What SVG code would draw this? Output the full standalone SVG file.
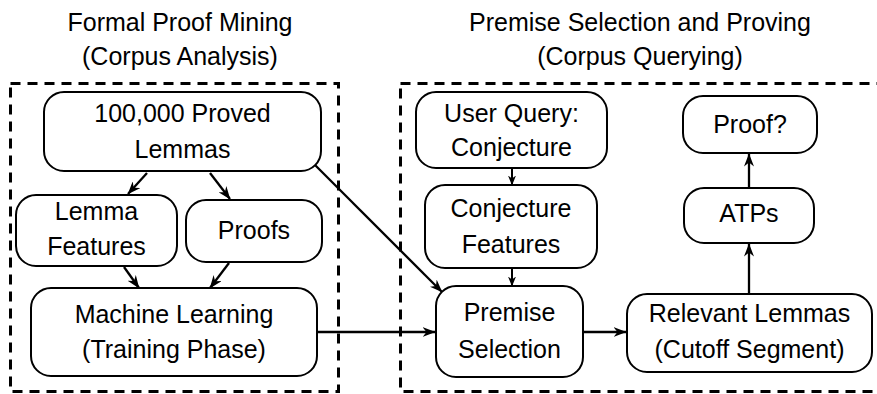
<svg xmlns="http://www.w3.org/2000/svg" width="877" height="394" viewBox="0 0 877 394">
  <defs>
    <marker id="arrow" viewBox="0 0 13 10" refX="12.5" refY="5" markerWidth="13" markerHeight="10" markerUnits="userSpaceOnUse" orient="auto">
      <path d="M0,0 L13,5 L0,10 L4,5 z" fill="#000"/>
    </marker>
    <marker id="arrow-small" viewBox="0 0 10 8" refX="9.5" refY="4" markerWidth="10" markerHeight="8" markerUnits="userSpaceOnUse" orient="auto">
      <path d="M0,0 L10,4 L0,8 L3,4 z" fill="#000"/>
    </marker>
  </defs>
  <style>
    text { font-family: "Liberation Sans", Arial, Helvetica, sans-serif; font-size: 25px; fill: #000; text-anchor: middle; }
    .node rect { fill: #fff; stroke: #000; stroke-width: 2; }
    .frame { fill: none; stroke: #000; stroke-width: 3; stroke-dasharray: 10 7; }
    .edges path { fill: none; stroke: #000; stroke-width: 2.3; marker-end: url(#arrow); }
    .edges path.short { marker-end: url(#arrow-small); stroke-width: 2; }
  </style>
  <rect width="877" height="394" fill="#fff"/>

  <!-- section frames and titles -->
  <g id="mining">
    <rect class="frame" x="10.5" y="83.5" width="328" height="308"/>
    <text x="180" y="31">Formal Proof Mining</text>
    <text x="180" y="65">(Corpus Analysis)</text>
  </g>
  <g id="querying">
    <rect class="frame" x="400.5" y="83.5" width="490" height="308"/>
    <text x="640" y="31">Premise Selection and Proving</text>
    <text x="640" y="65">(Corpus Querying)</text>
  </g>

  <!-- connectors -->
  <g class="edges" id="edges">
    <path d="M147,173 L128,194"/>
    <path d="M210,173 L230,199"/>
    <path d="M124,267 L139,288"/>
    <path d="M229,263 L210,288"/>
    <path d="M313,163 L442,292"/>
    <path d="M317,332 L435,332"/>
    <path class="short" d="M512,169 L512,185"/>
    <path class="short" d="M512,268 L512,286"/>
    <path d="M584,332 L626,332"/>
    <path d="M749,294 L749,244"/>
    <path d="M749,188 L749,154"/>
  </g>

  <!-- nodes -->
  <g class="node" id="proved-lemmas">
    <rect x="44" y="92" width="277" height="79" rx="20"/>
    <text x="182.5" y="122">100,000 Proved</text>
    <text x="182.5" y="158">Lemmas</text>
  </g>
  <g class="node" id="lemma-features">
    <rect x="16" y="195" width="161" height="71" rx="20"/>
    <text x="96.5" y="220">Lemma</text>
    <text x="96.5" y="255">Features</text>
  </g>
  <g class="node" id="proofs">
    <rect x="186" y="200" width="136" height="62" rx="20"/>
    <text x="254" y="239">Proofs</text>
  </g>
  <g class="node" id="machine-learning">
    <rect x="31" y="288" width="286" height="88" rx="20"/>
    <text x="174" y="323">Machine Learning</text>
    <text x="174" y="358">(Training Phase)</text>
  </g>
  <g class="node" id="user-query">
    <rect x="416" y="92" width="191" height="76" rx="20"/>
    <text x="511.5" y="122">User Query:</text>
    <text x="511.5" y="156">Conjecture</text>
  </g>
  <g class="node" id="conjecture-features">
    <rect x="425" y="185" width="172" height="83" rx="20"/>
    <text x="511" y="217">Conjecture</text>
    <text x="511" y="253">Features</text>
  </g>
  <g class="node" id="premise-selection">
    <rect x="436" y="286" width="147" height="91" rx="20"/>
    <text x="509.5" y="321">Premise</text>
    <text x="509.5" y="358">Selection</text>
  </g>
  <g class="node" id="relevant-lemmas">
    <rect x="627" y="294" width="245" height="78" rx="20"/>
    <text x="749.5" y="322">Relevant Lemmas</text>
    <text x="749.5" y="358">(Cutoff Segment)</text>
  </g>
  <g class="node" id="atps">
    <rect x="684" y="188" width="130" height="55" rx="20"/>
    <text x="749" y="222">ATPs</text>
  </g>
  <g class="node" id="proof">
    <rect x="683" y="96" width="134" height="57" rx="20"/>
    <text x="750" y="133">Proof?</text>
  </g>
</svg>
